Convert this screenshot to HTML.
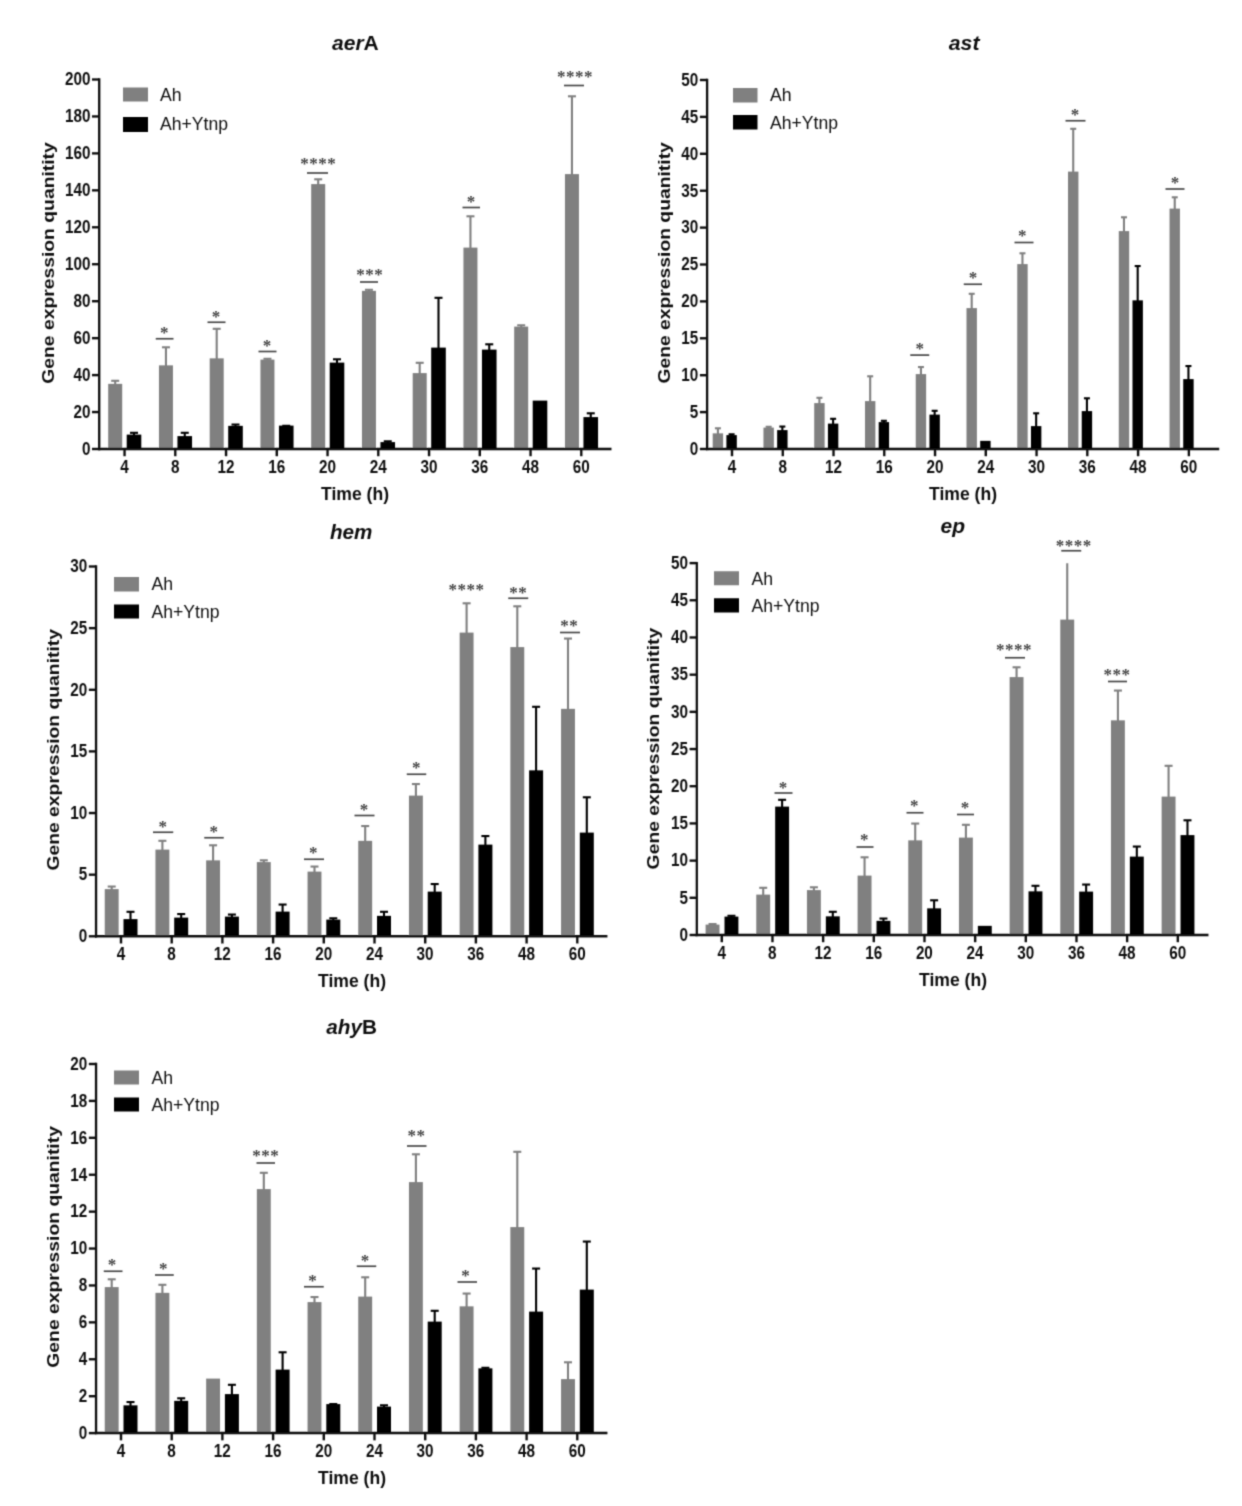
<!DOCTYPE html>
<html lang="en">
<head>
<meta charset="utf-8">
<title>Gene expression quantity</title>
<style>
html,body{margin:0;padding:0;background:#fff;}
body{width:1242px;height:1506px;overflow:hidden;}
svg{display:block;}
text{font-family:"Liberation Sans", sans-serif;fill:#111;}
.tk{font-size:17.8px;font-weight:bold;}
.lb{font-size:18px;font-weight:bold;}
.yl{font-size:17.2px;}
.ti{font-size:21px;font-weight:bold;}
.lg{font-size:19px;font-weight:normal;fill:#111;}
.st{font-family:"Liberation Serif", "DejaVu Serif", serif;font-size:17px;font-weight:bold;fill:#444;}
</style>
</head>
<body>
<svg width="1242" height="1506" viewBox="0 0 1242 1506">
<rect x="0" y="0" width="1242" height="1506" fill="#fff"/>
<defs><filter id="soft" x="0" y="0" width="1242" height="1506" filterUnits="userSpaceOnUse"><feConvolveMatrix order="3" kernelMatrix="1 4 1 4 16 4 1 4 1" divisor="36" edgeMode="duplicate" preserveAlpha="false"/></filter></defs>
<g id="fig" filter="url(#soft)">
<g class="panel">
<line x1="115.2" y1="384.85" x2="115.2" y2="380.5" stroke="#808080" stroke-width="2.1"/>
<line x1="111.2" y1="380.8" x2="119.2" y2="380.8" stroke="#808080" stroke-width="2.1"/>
<rect x="108.2" y="383.85" width="14" height="65.15" fill="#808080"/>
<line x1="134" y1="435.6" x2="134" y2="432.5" stroke="#000" stroke-width="2.1"/>
<line x1="130" y1="432.8" x2="138" y2="432.8" stroke="#000" stroke-width="2.1"/>
<rect x="126.7" y="434.6" width="14.6" height="14.4" fill="#000"/>
<line x1="165.95" y1="366.35" x2="165.95" y2="347" stroke="#808080" stroke-width="2.1"/>
<line x1="161.95" y1="347.3" x2="169.95" y2="347.3" stroke="#808080" stroke-width="2.1"/>
<rect x="158.95" y="365.35" width="14" height="83.65" fill="#808080"/>
<line x1="184.75" y1="437.1" x2="184.75" y2="432.5" stroke="#000" stroke-width="2.1"/>
<line x1="180.75" y1="432.8" x2="188.75" y2="432.8" stroke="#000" stroke-width="2.1"/>
<rect x="177.45" y="436.1" width="14.6" height="12.9" fill="#000"/>
<line x1="216.7" y1="359.35" x2="216.7" y2="328.5" stroke="#808080" stroke-width="2.1"/>
<line x1="212.7" y1="328.8" x2="220.7" y2="328.8" stroke="#808080" stroke-width="2.1"/>
<rect x="209.7" y="358.35" width="14" height="90.65" fill="#808080"/>
<line x1="235.5" y1="426.85" x2="235.5" y2="424.25" stroke="#000" stroke-width="2.1"/>
<line x1="231.5" y1="424.55" x2="239.5" y2="424.55" stroke="#000" stroke-width="2.1"/>
<rect x="228.2" y="425.85" width="14.6" height="23.15" fill="#000"/>
<line x1="267.45" y1="360.6" x2="267.45" y2="358.5" stroke="#808080" stroke-width="2.1"/>
<line x1="263.45" y1="358.8" x2="271.45" y2="358.8" stroke="#808080" stroke-width="2.1"/>
<rect x="260.45" y="359.6" width="14" height="89.4" fill="#808080"/>
<line x1="286.25" y1="426.6" x2="286.25" y2="425.5" stroke="#000" stroke-width="2.1"/>
<line x1="282.25" y1="425.8" x2="290.25" y2="425.8" stroke="#000" stroke-width="2.1"/>
<rect x="278.95" y="425.6" width="14.6" height="23.4" fill="#000"/>
<line x1="318.2" y1="185.1" x2="318.2" y2="179" stroke="#808080" stroke-width="2.1"/>
<line x1="314.2" y1="179.3" x2="322.2" y2="179.3" stroke="#808080" stroke-width="2.1"/>
<rect x="311.2" y="184.1" width="14" height="264.9" fill="#808080"/>
<line x1="337" y1="363.6" x2="337" y2="359" stroke="#000" stroke-width="2.1"/>
<line x1="333" y1="359.3" x2="341" y2="359.3" stroke="#000" stroke-width="2.1"/>
<rect x="329.7" y="362.6" width="14.6" height="86.4" fill="#000"/>
<line x1="368.95" y1="291.85" x2="368.95" y2="289.5" stroke="#808080" stroke-width="2.1"/>
<line x1="364.95" y1="289.8" x2="372.95" y2="289.8" stroke="#808080" stroke-width="2.1"/>
<rect x="361.95" y="290.85" width="14" height="158.15" fill="#808080"/>
<line x1="387.75" y1="443.1" x2="387.75" y2="441" stroke="#000" stroke-width="2.1"/>
<line x1="383.75" y1="441.3" x2="391.75" y2="441.3" stroke="#000" stroke-width="2.1"/>
<rect x="380.45" y="442.1" width="14.6" height="6.9" fill="#000"/>
<line x1="419.7" y1="374.1" x2="419.7" y2="362.5" stroke="#808080" stroke-width="2.1"/>
<line x1="415.7" y1="362.8" x2="423.7" y2="362.8" stroke="#808080" stroke-width="2.1"/>
<rect x="412.7" y="373.1" width="14" height="75.9" fill="#808080"/>
<line x1="438.5" y1="348.6" x2="438.5" y2="297.5" stroke="#000" stroke-width="2.1"/>
<line x1="434.5" y1="297.8" x2="442.5" y2="297.8" stroke="#000" stroke-width="2.1"/>
<rect x="431.2" y="347.6" width="14.6" height="101.4" fill="#000"/>
<line x1="470.45" y1="248.6" x2="470.45" y2="216" stroke="#808080" stroke-width="2.1"/>
<line x1="466.45" y1="216.3" x2="474.45" y2="216.3" stroke="#808080" stroke-width="2.1"/>
<rect x="463.45" y="247.6" width="14" height="201.4" fill="#808080"/>
<line x1="489.25" y1="350.6" x2="489.25" y2="344" stroke="#000" stroke-width="2.1"/>
<line x1="485.25" y1="344.3" x2="493.25" y2="344.3" stroke="#000" stroke-width="2.1"/>
<rect x="481.95" y="349.6" width="14.6" height="99.4" fill="#000"/>
<line x1="521.2" y1="327.6" x2="521.2" y2="325" stroke="#808080" stroke-width="2.1"/>
<line x1="517.2" y1="325.3" x2="525.2" y2="325.3" stroke="#808080" stroke-width="2.1"/>
<rect x="514.2" y="326.6" width="14" height="122.4" fill="#808080"/>
<rect x="532.7" y="400.6" width="14.6" height="48.4" fill="#000"/>
<line x1="571.95" y1="175.1" x2="571.95" y2="96" stroke="#808080" stroke-width="2.1"/>
<line x1="567.95" y1="96.3" x2="575.95" y2="96.3" stroke="#808080" stroke-width="2.1"/>
<rect x="564.95" y="174.1" width="14" height="274.9" fill="#808080"/>
<line x1="590.75" y1="418.1" x2="590.75" y2="413" stroke="#000" stroke-width="2.1"/>
<line x1="586.75" y1="413.3" x2="594.75" y2="413.3" stroke="#000" stroke-width="2.1"/>
<rect x="583.45" y="417.1" width="14.6" height="31.9" fill="#000"/>
<line x1="99.2" y1="78.3" x2="99.2" y2="450.2" stroke="#111" stroke-width="2.3"/>
<line x1="98.1" y1="449" x2="611.5" y2="449" stroke="#111" stroke-width="2.5"/>
<line x1="92" y1="449" x2="99.2" y2="449" stroke="#111" stroke-width="2.4"/>
<text class="tk" x="90.4" y="454.8" text-anchor="end" textLength="8.5" lengthAdjust="spacingAndGlyphs">0</text>
<line x1="92" y1="412.05" x2="99.2" y2="412.05" stroke="#111" stroke-width="2.4"/>
<text class="tk" x="90.4" y="417.85" text-anchor="end" textLength="17" lengthAdjust="spacingAndGlyphs">20</text>
<line x1="92" y1="375.1" x2="99.2" y2="375.1" stroke="#111" stroke-width="2.4"/>
<text class="tk" x="90.4" y="380.9" text-anchor="end" textLength="17" lengthAdjust="spacingAndGlyphs">40</text>
<line x1="92" y1="338.15" x2="99.2" y2="338.15" stroke="#111" stroke-width="2.4"/>
<text class="tk" x="90.4" y="343.95" text-anchor="end" textLength="17" lengthAdjust="spacingAndGlyphs">60</text>
<line x1="92" y1="301.2" x2="99.2" y2="301.2" stroke="#111" stroke-width="2.4"/>
<text class="tk" x="90.4" y="307" text-anchor="end" textLength="17" lengthAdjust="spacingAndGlyphs">80</text>
<line x1="92" y1="264.25" x2="99.2" y2="264.25" stroke="#111" stroke-width="2.4"/>
<text class="tk" x="90.4" y="270.05" text-anchor="end" textLength="25.5" lengthAdjust="spacingAndGlyphs">100</text>
<line x1="92" y1="227.3" x2="99.2" y2="227.3" stroke="#111" stroke-width="2.4"/>
<text class="tk" x="90.4" y="233.1" text-anchor="end" textLength="25.5" lengthAdjust="spacingAndGlyphs">120</text>
<line x1="92" y1="190.35" x2="99.2" y2="190.35" stroke="#111" stroke-width="2.4"/>
<text class="tk" x="90.4" y="196.15" text-anchor="end" textLength="25.5" lengthAdjust="spacingAndGlyphs">140</text>
<line x1="92" y1="153.4" x2="99.2" y2="153.4" stroke="#111" stroke-width="2.4"/>
<text class="tk" x="90.4" y="159.2" text-anchor="end" textLength="25.5" lengthAdjust="spacingAndGlyphs">160</text>
<line x1="92" y1="116.45" x2="99.2" y2="116.45" stroke="#111" stroke-width="2.4"/>
<text class="tk" x="90.4" y="122.25" text-anchor="end" textLength="25.5" lengthAdjust="spacingAndGlyphs">180</text>
<line x1="92" y1="79.5" x2="99.2" y2="79.5" stroke="#111" stroke-width="2.4"/>
<text class="tk" x="90.4" y="85.3" text-anchor="end" textLength="25.5" lengthAdjust="spacingAndGlyphs">200</text>
<line x1="124.55" y1="449" x2="124.55" y2="456.2" stroke="#111" stroke-width="2.4"/>
<text class="tk" x="124.45" y="472.7" text-anchor="middle" textLength="8.5" lengthAdjust="spacingAndGlyphs">4</text>
<line x1="175.3" y1="449" x2="175.3" y2="456.2" stroke="#111" stroke-width="2.4"/>
<text class="tk" x="175.2" y="472.7" text-anchor="middle" textLength="8.5" lengthAdjust="spacingAndGlyphs">8</text>
<line x1="226.05" y1="449" x2="226.05" y2="456.2" stroke="#111" stroke-width="2.4"/>
<text class="tk" x="225.95" y="472.7" text-anchor="middle" textLength="17" lengthAdjust="spacingAndGlyphs">12</text>
<line x1="276.8" y1="449" x2="276.8" y2="456.2" stroke="#111" stroke-width="2.4"/>
<text class="tk" x="276.7" y="472.7" text-anchor="middle" textLength="17" lengthAdjust="spacingAndGlyphs">16</text>
<line x1="327.55" y1="449" x2="327.55" y2="456.2" stroke="#111" stroke-width="2.4"/>
<text class="tk" x="327.45" y="472.7" text-anchor="middle" textLength="17" lengthAdjust="spacingAndGlyphs">20</text>
<line x1="378.3" y1="449" x2="378.3" y2="456.2" stroke="#111" stroke-width="2.4"/>
<text class="tk" x="378.2" y="472.7" text-anchor="middle" textLength="17" lengthAdjust="spacingAndGlyphs">24</text>
<line x1="429.05" y1="449" x2="429.05" y2="456.2" stroke="#111" stroke-width="2.4"/>
<text class="tk" x="428.95" y="472.7" text-anchor="middle" textLength="17" lengthAdjust="spacingAndGlyphs">30</text>
<line x1="479.8" y1="449" x2="479.8" y2="456.2" stroke="#111" stroke-width="2.4"/>
<text class="tk" x="479.7" y="472.7" text-anchor="middle" textLength="17" lengthAdjust="spacingAndGlyphs">36</text>
<line x1="530.55" y1="449" x2="530.55" y2="456.2" stroke="#111" stroke-width="2.4"/>
<text class="tk" x="530.45" y="472.7" text-anchor="middle" textLength="17" lengthAdjust="spacingAndGlyphs">48</text>
<line x1="581.3" y1="449" x2="581.3" y2="456.2" stroke="#111" stroke-width="2.4"/>
<text class="tk" x="581.2" y="472.7" text-anchor="middle" textLength="17" lengthAdjust="spacingAndGlyphs">60</text>
<line x1="155.75" y1="338.75" x2="173.5" y2="338.75" stroke="#4a4a4a" stroke-width="1.7"/>
<text class="st" x="164.25" y="337.5" text-anchor="middle">*</text>
<line x1="207.5" y1="322.25" x2="225.5" y2="322.25" stroke="#4a4a4a" stroke-width="1.7"/>
<text class="st" x="216" y="321.5" text-anchor="middle">*</text>
<line x1="258.5" y1="351.5" x2="276.5" y2="351.5" stroke="#4a4a4a" stroke-width="1.7"/>
<text class="st" x="267" y="351" text-anchor="middle">*</text>
<line x1="307" y1="173" x2="328" y2="173" stroke="#4a4a4a" stroke-width="1.7"/>
<text class="st" x="304.5" y="168.5" text-anchor="middle">*</text>
<text class="st" x="313.5" y="168.5" text-anchor="middle">*</text>
<text class="st" x="322.5" y="168.5" text-anchor="middle">*</text>
<text class="st" x="331.5" y="168.5" text-anchor="middle">*</text>
<line x1="360" y1="282" x2="378" y2="282" stroke="#4a4a4a" stroke-width="1.7"/>
<text class="st" x="360.5" y="279.5" text-anchor="middle">*</text>
<text class="st" x="369.5" y="279.5" text-anchor="middle">*</text>
<text class="st" x="378.5" y="279.5" text-anchor="middle">*</text>
<line x1="462.5" y1="207.5" x2="480" y2="207.5" stroke="#4a4a4a" stroke-width="1.7"/>
<text class="st" x="471" y="206.5" text-anchor="middle">*</text>
<line x1="564" y1="85.5" x2="584" y2="85.5" stroke="#4a4a4a" stroke-width="1.7"/>
<text class="st" x="561.25" y="82" text-anchor="middle">*</text>
<text class="st" x="570.25" y="82" text-anchor="middle">*</text>
<text class="st" x="579.25" y="82" text-anchor="middle">*</text>
<text class="st" x="588.25" y="82" text-anchor="middle">*</text>
<text class="ti" x="332" y="50" textLength="46.75" lengthAdjust="spacingAndGlyphs"><tspan font-style="italic">aer</tspan><tspan font-style="normal">A</tspan></text>
<text class="lb" x="321" y="499.6" textLength="68" lengthAdjust="spacingAndGlyphs">Time (h)</text>
<text class="lb yl" transform="translate(54.4 383.8) rotate(-90)" x="0" y="0" textLength="241.6" lengthAdjust="spacingAndGlyphs">Gene expression quanitity</text>
<rect x="123" y="87.5" width="25" height="14" fill="#808080"/>
<rect x="123" y="117" width="25" height="15" fill="#000"/>
<text class="lg" x="160" y="100.9" textLength="21.6" lengthAdjust="spacingAndGlyphs">Ah</text>
<text class="lg" x="160" y="130.4" textLength="68" lengthAdjust="spacingAndGlyphs">Ah+Ytnp</text>
</g>
<g class="panel">
<line x1="717.9" y1="434.35" x2="717.9" y2="428" stroke="#808080" stroke-width="2.1"/>
<line x1="714.9" y1="428.3" x2="720.9" y2="428.3" stroke="#808080" stroke-width="2.1"/>
<rect x="712.7" y="433.35" width="10.4" height="15.65" fill="#808080"/>
<line x1="731.6" y1="436.1" x2="731.6" y2="434" stroke="#000" stroke-width="2.1"/>
<line x1="728.6" y1="434.3" x2="734.6" y2="434.3" stroke="#000" stroke-width="2.1"/>
<rect x="726.4" y="435.1" width="10.4" height="13.9" fill="#000"/>
<line x1="768.66" y1="428.6" x2="768.66" y2="426.5" stroke="#808080" stroke-width="2.1"/>
<line x1="765.66" y1="426.8" x2="771.66" y2="426.8" stroke="#808080" stroke-width="2.1"/>
<rect x="763.46" y="427.6" width="10.4" height="21.4" fill="#808080"/>
<line x1="782.36" y1="431.1" x2="782.36" y2="426.25" stroke="#000" stroke-width="2.1"/>
<line x1="779.36" y1="426.55" x2="785.36" y2="426.55" stroke="#000" stroke-width="2.1"/>
<rect x="777.16" y="430.1" width="10.4" height="18.9" fill="#000"/>
<line x1="819.42" y1="404.1" x2="819.42" y2="397.5" stroke="#808080" stroke-width="2.1"/>
<line x1="816.42" y1="397.8" x2="822.42" y2="397.8" stroke="#808080" stroke-width="2.1"/>
<rect x="814.22" y="403.1" width="10.4" height="45.9" fill="#808080"/>
<line x1="833.12" y1="424.6" x2="833.12" y2="418.5" stroke="#000" stroke-width="2.1"/>
<line x1="830.12" y1="418.8" x2="836.12" y2="418.8" stroke="#000" stroke-width="2.1"/>
<rect x="827.92" y="423.6" width="10.4" height="25.4" fill="#000"/>
<line x1="870.18" y1="402.1" x2="870.18" y2="376" stroke="#808080" stroke-width="2.1"/>
<line x1="867.18" y1="376.3" x2="873.18" y2="376.3" stroke="#808080" stroke-width="2.1"/>
<rect x="864.98" y="401.1" width="10.4" height="47.9" fill="#808080"/>
<line x1="883.88" y1="423.1" x2="883.88" y2="420.5" stroke="#000" stroke-width="2.1"/>
<line x1="880.88" y1="420.8" x2="886.88" y2="420.8" stroke="#000" stroke-width="2.1"/>
<rect x="878.68" y="422.1" width="10.4" height="26.9" fill="#000"/>
<line x1="920.94" y1="375.1" x2="920.94" y2="366.75" stroke="#808080" stroke-width="2.1"/>
<line x1="917.94" y1="367.05" x2="923.94" y2="367.05" stroke="#808080" stroke-width="2.1"/>
<rect x="915.74" y="374.1" width="10.4" height="74.9" fill="#808080"/>
<line x1="934.64" y1="415.6" x2="934.64" y2="410.5" stroke="#000" stroke-width="2.1"/>
<line x1="931.64" y1="410.8" x2="937.64" y2="410.8" stroke="#000" stroke-width="2.1"/>
<rect x="929.44" y="414.6" width="10.4" height="34.4" fill="#000"/>
<line x1="971.7" y1="309.1" x2="971.7" y2="293.5" stroke="#808080" stroke-width="2.1"/>
<line x1="968.7" y1="293.8" x2="974.7" y2="293.8" stroke="#808080" stroke-width="2.1"/>
<rect x="966.5" y="308.1" width="10.4" height="140.9" fill="#808080"/>
<rect x="980.2" y="440.85" width="10.4" height="8.15" fill="#000"/>
<line x1="1022.46" y1="265.1" x2="1022.46" y2="253" stroke="#808080" stroke-width="2.1"/>
<line x1="1019.46" y1="253.3" x2="1025.46" y2="253.3" stroke="#808080" stroke-width="2.1"/>
<rect x="1017.26" y="264.1" width="10.4" height="184.9" fill="#808080"/>
<line x1="1036.16" y1="427.1" x2="1036.16" y2="413" stroke="#000" stroke-width="2.1"/>
<line x1="1033.16" y1="413.3" x2="1039.16" y2="413.3" stroke="#000" stroke-width="2.1"/>
<rect x="1030.96" y="426.1" width="10.4" height="22.9" fill="#000"/>
<line x1="1073.22" y1="172.6" x2="1073.22" y2="128.5" stroke="#808080" stroke-width="2.1"/>
<line x1="1070.22" y1="128.8" x2="1076.22" y2="128.8" stroke="#808080" stroke-width="2.1"/>
<rect x="1068.02" y="171.6" width="10.4" height="277.4" fill="#808080"/>
<line x1="1086.92" y1="412.1" x2="1086.92" y2="398" stroke="#000" stroke-width="2.1"/>
<line x1="1083.92" y1="398.3" x2="1089.92" y2="398.3" stroke="#000" stroke-width="2.1"/>
<rect x="1081.72" y="411.1" width="10.4" height="37.9" fill="#000"/>
<line x1="1123.98" y1="232.1" x2="1123.98" y2="217" stroke="#808080" stroke-width="2.1"/>
<line x1="1120.98" y1="217.3" x2="1126.98" y2="217.3" stroke="#808080" stroke-width="2.1"/>
<rect x="1118.78" y="231.1" width="10.4" height="217.9" fill="#808080"/>
<line x1="1137.68" y1="301.35" x2="1137.68" y2="265.75" stroke="#000" stroke-width="2.1"/>
<line x1="1134.68" y1="266.05" x2="1140.68" y2="266.05" stroke="#000" stroke-width="2.1"/>
<rect x="1132.48" y="300.35" width="10.4" height="148.65" fill="#000"/>
<line x1="1174.74" y1="209.6" x2="1174.74" y2="197" stroke="#808080" stroke-width="2.1"/>
<line x1="1171.74" y1="197.3" x2="1177.74" y2="197.3" stroke="#808080" stroke-width="2.1"/>
<rect x="1169.54" y="208.6" width="10.4" height="240.4" fill="#808080"/>
<line x1="1188.44" y1="380.1" x2="1188.44" y2="365.75" stroke="#000" stroke-width="2.1"/>
<line x1="1185.44" y1="366.05" x2="1191.44" y2="366.05" stroke="#000" stroke-width="2.1"/>
<rect x="1183.24" y="379.1" width="10.4" height="69.9" fill="#000"/>
<line x1="707.1" y1="78.8" x2="707.1" y2="450.2" stroke="#111" stroke-width="2.3"/>
<line x1="706" y1="449" x2="1219.2" y2="449" stroke="#111" stroke-width="2.5"/>
<line x1="699.9" y1="449" x2="707.1" y2="449" stroke="#111" stroke-width="2.4"/>
<text class="tk" x="698.3" y="454.8" text-anchor="end" textLength="8.5" lengthAdjust="spacingAndGlyphs">0</text>
<line x1="699.9" y1="412.1" x2="707.1" y2="412.1" stroke="#111" stroke-width="2.4"/>
<text class="tk" x="698.3" y="417.9" text-anchor="end" textLength="8.5" lengthAdjust="spacingAndGlyphs">5</text>
<line x1="699.9" y1="375.2" x2="707.1" y2="375.2" stroke="#111" stroke-width="2.4"/>
<text class="tk" x="698.3" y="381" text-anchor="end" textLength="17" lengthAdjust="spacingAndGlyphs">10</text>
<line x1="699.9" y1="338.3" x2="707.1" y2="338.3" stroke="#111" stroke-width="2.4"/>
<text class="tk" x="698.3" y="344.1" text-anchor="end" textLength="17" lengthAdjust="spacingAndGlyphs">15</text>
<line x1="699.9" y1="301.4" x2="707.1" y2="301.4" stroke="#111" stroke-width="2.4"/>
<text class="tk" x="698.3" y="307.2" text-anchor="end" textLength="17" lengthAdjust="spacingAndGlyphs">20</text>
<line x1="699.9" y1="264.5" x2="707.1" y2="264.5" stroke="#111" stroke-width="2.4"/>
<text class="tk" x="698.3" y="270.3" text-anchor="end" textLength="17" lengthAdjust="spacingAndGlyphs">25</text>
<line x1="699.9" y1="227.6" x2="707.1" y2="227.6" stroke="#111" stroke-width="2.4"/>
<text class="tk" x="698.3" y="233.4" text-anchor="end" textLength="17" lengthAdjust="spacingAndGlyphs">30</text>
<line x1="699.9" y1="190.7" x2="707.1" y2="190.7" stroke="#111" stroke-width="2.4"/>
<text class="tk" x="698.3" y="196.5" text-anchor="end" textLength="17" lengthAdjust="spacingAndGlyphs">35</text>
<line x1="699.9" y1="153.8" x2="707.1" y2="153.8" stroke="#111" stroke-width="2.4"/>
<text class="tk" x="698.3" y="159.6" text-anchor="end" textLength="17" lengthAdjust="spacingAndGlyphs">40</text>
<line x1="699.9" y1="116.9" x2="707.1" y2="116.9" stroke="#111" stroke-width="2.4"/>
<text class="tk" x="698.3" y="122.7" text-anchor="end" textLength="17" lengthAdjust="spacingAndGlyphs">45</text>
<line x1="699.9" y1="80" x2="707.1" y2="80" stroke="#111" stroke-width="2.4"/>
<text class="tk" x="698.3" y="85.8" text-anchor="end" textLength="17" lengthAdjust="spacingAndGlyphs">50</text>
<line x1="732" y1="449" x2="732" y2="456.2" stroke="#111" stroke-width="2.4"/>
<text class="tk" x="731.9" y="472.7" text-anchor="middle" textLength="8.5" lengthAdjust="spacingAndGlyphs">4</text>
<line x1="782.76" y1="449" x2="782.76" y2="456.2" stroke="#111" stroke-width="2.4"/>
<text class="tk" x="782.66" y="472.7" text-anchor="middle" textLength="8.5" lengthAdjust="spacingAndGlyphs">8</text>
<line x1="833.52" y1="449" x2="833.52" y2="456.2" stroke="#111" stroke-width="2.4"/>
<text class="tk" x="833.42" y="472.7" text-anchor="middle" textLength="17" lengthAdjust="spacingAndGlyphs">12</text>
<line x1="884.28" y1="449" x2="884.28" y2="456.2" stroke="#111" stroke-width="2.4"/>
<text class="tk" x="884.18" y="472.7" text-anchor="middle" textLength="17" lengthAdjust="spacingAndGlyphs">16</text>
<line x1="935.04" y1="449" x2="935.04" y2="456.2" stroke="#111" stroke-width="2.4"/>
<text class="tk" x="934.94" y="472.7" text-anchor="middle" textLength="17" lengthAdjust="spacingAndGlyphs">20</text>
<line x1="985.8" y1="449" x2="985.8" y2="456.2" stroke="#111" stroke-width="2.4"/>
<text class="tk" x="985.7" y="472.7" text-anchor="middle" textLength="17" lengthAdjust="spacingAndGlyphs">24</text>
<line x1="1036.56" y1="449" x2="1036.56" y2="456.2" stroke="#111" stroke-width="2.4"/>
<text class="tk" x="1036.46" y="472.7" text-anchor="middle" textLength="17" lengthAdjust="spacingAndGlyphs">30</text>
<line x1="1087.32" y1="449" x2="1087.32" y2="456.2" stroke="#111" stroke-width="2.4"/>
<text class="tk" x="1087.22" y="472.7" text-anchor="middle" textLength="17" lengthAdjust="spacingAndGlyphs">36</text>
<line x1="1138.08" y1="449" x2="1138.08" y2="456.2" stroke="#111" stroke-width="2.4"/>
<text class="tk" x="1137.98" y="472.7" text-anchor="middle" textLength="17" lengthAdjust="spacingAndGlyphs">48</text>
<line x1="1188.84" y1="449" x2="1188.84" y2="456.2" stroke="#111" stroke-width="2.4"/>
<text class="tk" x="1188.74" y="472.7" text-anchor="middle" textLength="17" lengthAdjust="spacingAndGlyphs">60</text>
<line x1="910.25" y1="355.1" x2="929.25" y2="355.1" stroke="#4a4a4a" stroke-width="1.7"/>
<text class="st" x="919.8" y="354" text-anchor="middle">*</text>
<line x1="963.75" y1="284.25" x2="982" y2="284.25" stroke="#4a4a4a" stroke-width="1.7"/>
<text class="st" x="973" y="283.25" text-anchor="middle">*</text>
<line x1="1014.5" y1="242.5" x2="1033.5" y2="242.5" stroke="#4a4a4a" stroke-width="1.7"/>
<text class="st" x="1022.3" y="241" text-anchor="middle">*</text>
<line x1="1065.5" y1="120.75" x2="1085.5" y2="120.75" stroke="#4a4a4a" stroke-width="1.7"/>
<text class="st" x="1075" y="119.5" text-anchor="middle">*</text>
<line x1="1165.5" y1="189" x2="1184.5" y2="189" stroke="#4a4a4a" stroke-width="1.7"/>
<text class="st" x="1175" y="187.5" text-anchor="middle">*</text>
<text class="ti" x="948.75" y="50" textLength="30.75" lengthAdjust="spacingAndGlyphs"><tspan font-style="italic">ast</tspan></text>
<text class="lb" x="929" y="499.6" textLength="68" lengthAdjust="spacingAndGlyphs">Time (h)</text>
<text class="lb yl" transform="translate(670.1 383.6) rotate(-90)" x="0" y="0" textLength="241.4" lengthAdjust="spacingAndGlyphs">Gene expression quanitity</text>
<rect x="733" y="88" width="24.5" height="14.5" fill="#808080"/>
<rect x="733" y="115" width="24.5" height="14.5" fill="#000"/>
<text class="lg" x="770" y="101.4" textLength="21.6" lengthAdjust="spacingAndGlyphs">Ah</text>
<text class="lg" x="770" y="129.15" textLength="68" lengthAdjust="spacingAndGlyphs">Ah+Ytnp</text>
</g>
<g class="panel">
<line x1="111.7" y1="890.1" x2="111.7" y2="886.25" stroke="#808080" stroke-width="2.1"/>
<line x1="107.7" y1="886.55" x2="115.7" y2="886.55" stroke="#808080" stroke-width="2.1"/>
<rect x="104.75" y="889.1" width="13.9" height="47.2" fill="#808080"/>
<line x1="130.5" y1="920.1" x2="130.5" y2="911.5" stroke="#000" stroke-width="2.1"/>
<line x1="126.5" y1="911.8" x2="134.5" y2="911.8" stroke="#000" stroke-width="2.1"/>
<rect x="123.5" y="919.1" width="14" height="17.2" fill="#000"/>
<line x1="162.4" y1="850.6" x2="162.4" y2="840.5" stroke="#808080" stroke-width="2.1"/>
<line x1="158.4" y1="840.8" x2="166.4" y2="840.8" stroke="#808080" stroke-width="2.1"/>
<rect x="155.45" y="849.6" width="13.9" height="86.7" fill="#808080"/>
<line x1="181.2" y1="918.6" x2="181.2" y2="913.75" stroke="#000" stroke-width="2.1"/>
<line x1="177.2" y1="914.05" x2="185.2" y2="914.05" stroke="#000" stroke-width="2.1"/>
<rect x="174.2" y="917.6" width="14" height="18.7" fill="#000"/>
<line x1="213.1" y1="861.35" x2="213.1" y2="845" stroke="#808080" stroke-width="2.1"/>
<line x1="209.1" y1="845.3" x2="217.1" y2="845.3" stroke="#808080" stroke-width="2.1"/>
<rect x="206.15" y="860.35" width="13.9" height="75.95" fill="#808080"/>
<line x1="231.9" y1="917.6" x2="231.9" y2="914.25" stroke="#000" stroke-width="2.1"/>
<line x1="227.9" y1="914.55" x2="235.9" y2="914.55" stroke="#000" stroke-width="2.1"/>
<rect x="224.9" y="916.6" width="14" height="19.7" fill="#000"/>
<line x1="263.8" y1="863.1" x2="263.8" y2="860" stroke="#808080" stroke-width="2.1"/>
<line x1="259.8" y1="860.3" x2="267.8" y2="860.3" stroke="#808080" stroke-width="2.1"/>
<rect x="256.85" y="862.1" width="13.9" height="74.2" fill="#808080"/>
<line x1="282.6" y1="912.6" x2="282.6" y2="904.25" stroke="#000" stroke-width="2.1"/>
<line x1="278.6" y1="904.55" x2="286.6" y2="904.55" stroke="#000" stroke-width="2.1"/>
<rect x="275.6" y="911.6" width="14" height="24.7" fill="#000"/>
<line x1="314.5" y1="872.6" x2="314.5" y2="866.25" stroke="#808080" stroke-width="2.1"/>
<line x1="310.5" y1="866.55" x2="318.5" y2="866.55" stroke="#808080" stroke-width="2.1"/>
<rect x="307.55" y="871.6" width="13.9" height="64.7" fill="#808080"/>
<line x1="333.3" y1="920.6" x2="333.3" y2="918" stroke="#000" stroke-width="2.1"/>
<line x1="329.3" y1="918.3" x2="337.3" y2="918.3" stroke="#000" stroke-width="2.1"/>
<rect x="326.3" y="919.6" width="14" height="16.7" fill="#000"/>
<line x1="365.2" y1="841.85" x2="365.2" y2="825.75" stroke="#808080" stroke-width="2.1"/>
<line x1="361.2" y1="826.05" x2="369.2" y2="826.05" stroke="#808080" stroke-width="2.1"/>
<rect x="358.25" y="840.85" width="13.9" height="95.45" fill="#808080"/>
<line x1="384" y1="916.85" x2="384" y2="911.5" stroke="#000" stroke-width="2.1"/>
<line x1="380" y1="911.8" x2="388" y2="911.8" stroke="#000" stroke-width="2.1"/>
<rect x="377" y="915.85" width="14" height="20.45" fill="#000"/>
<line x1="415.9" y1="796.6" x2="415.9" y2="783.75" stroke="#808080" stroke-width="2.1"/>
<line x1="411.9" y1="784.05" x2="419.9" y2="784.05" stroke="#808080" stroke-width="2.1"/>
<rect x="408.95" y="795.6" width="13.9" height="140.7" fill="#808080"/>
<line x1="434.7" y1="892.6" x2="434.7" y2="883.75" stroke="#000" stroke-width="2.1"/>
<line x1="430.7" y1="884.05" x2="438.7" y2="884.05" stroke="#000" stroke-width="2.1"/>
<rect x="427.7" y="891.6" width="14" height="44.7" fill="#000"/>
<line x1="466.6" y1="633.6" x2="466.6" y2="603" stroke="#808080" stroke-width="2.1"/>
<line x1="462.6" y1="603.3" x2="470.6" y2="603.3" stroke="#808080" stroke-width="2.1"/>
<rect x="459.65" y="632.6" width="13.9" height="303.7" fill="#808080"/>
<line x1="485.4" y1="845.6" x2="485.4" y2="835.75" stroke="#000" stroke-width="2.1"/>
<line x1="481.4" y1="836.05" x2="489.4" y2="836.05" stroke="#000" stroke-width="2.1"/>
<rect x="478.4" y="844.6" width="14" height="91.7" fill="#000"/>
<line x1="517.3" y1="648.1" x2="517.3" y2="606" stroke="#808080" stroke-width="2.1"/>
<line x1="513.3" y1="606.3" x2="521.3" y2="606.3" stroke="#808080" stroke-width="2.1"/>
<rect x="510.35" y="647.1" width="13.9" height="289.2" fill="#808080"/>
<line x1="536.1" y1="771.35" x2="536.1" y2="706.5" stroke="#000" stroke-width="2.1"/>
<line x1="532.1" y1="706.8" x2="540.1" y2="706.8" stroke="#000" stroke-width="2.1"/>
<rect x="529.1" y="770.35" width="14" height="165.95" fill="#000"/>
<line x1="568" y1="709.85" x2="568" y2="638.25" stroke="#808080" stroke-width="2.1"/>
<line x1="564" y1="638.55" x2="572" y2="638.55" stroke="#808080" stroke-width="2.1"/>
<rect x="561.05" y="708.85" width="13.9" height="227.45" fill="#808080"/>
<line x1="586.8" y1="833.6" x2="586.8" y2="797" stroke="#000" stroke-width="2.1"/>
<line x1="582.8" y1="797.3" x2="590.8" y2="797.3" stroke="#000" stroke-width="2.1"/>
<rect x="579.8" y="832.6" width="14" height="103.7" fill="#000"/>
<line x1="96.05" y1="565.3" x2="96.05" y2="937.5" stroke="#111" stroke-width="2.3"/>
<line x1="94.95" y1="936.3" x2="607.4" y2="936.3" stroke="#111" stroke-width="2.5"/>
<line x1="88.85" y1="936.3" x2="96.05" y2="936.3" stroke="#111" stroke-width="2.4"/>
<text class="tk" x="87.25" y="942.1" text-anchor="end" textLength="8.5" lengthAdjust="spacingAndGlyphs">0</text>
<line x1="88.85" y1="874.67" x2="96.05" y2="874.67" stroke="#111" stroke-width="2.4"/>
<text class="tk" x="87.25" y="880.47" text-anchor="end" textLength="8.5" lengthAdjust="spacingAndGlyphs">5</text>
<line x1="88.85" y1="813.03" x2="96.05" y2="813.03" stroke="#111" stroke-width="2.4"/>
<text class="tk" x="87.25" y="818.83" text-anchor="end" textLength="17" lengthAdjust="spacingAndGlyphs">10</text>
<line x1="88.85" y1="751.4" x2="96.05" y2="751.4" stroke="#111" stroke-width="2.4"/>
<text class="tk" x="87.25" y="757.2" text-anchor="end" textLength="17" lengthAdjust="spacingAndGlyphs">15</text>
<line x1="88.85" y1="689.77" x2="96.05" y2="689.77" stroke="#111" stroke-width="2.4"/>
<text class="tk" x="87.25" y="695.57" text-anchor="end" textLength="17" lengthAdjust="spacingAndGlyphs">20</text>
<line x1="88.85" y1="628.13" x2="96.05" y2="628.13" stroke="#111" stroke-width="2.4"/>
<text class="tk" x="87.25" y="633.93" text-anchor="end" textLength="17" lengthAdjust="spacingAndGlyphs">25</text>
<line x1="88.85" y1="566.5" x2="96.05" y2="566.5" stroke="#111" stroke-width="2.4"/>
<text class="tk" x="87.25" y="572.3" text-anchor="end" textLength="17" lengthAdjust="spacingAndGlyphs">30</text>
<line x1="121" y1="936.3" x2="121" y2="943.5" stroke="#111" stroke-width="2.4"/>
<text class="tk" x="120.9" y="960" text-anchor="middle" textLength="8.5" lengthAdjust="spacingAndGlyphs">4</text>
<line x1="171.7" y1="936.3" x2="171.7" y2="943.5" stroke="#111" stroke-width="2.4"/>
<text class="tk" x="171.6" y="960" text-anchor="middle" textLength="8.5" lengthAdjust="spacingAndGlyphs">8</text>
<line x1="222.4" y1="936.3" x2="222.4" y2="943.5" stroke="#111" stroke-width="2.4"/>
<text class="tk" x="222.3" y="960" text-anchor="middle" textLength="17" lengthAdjust="spacingAndGlyphs">12</text>
<line x1="273.1" y1="936.3" x2="273.1" y2="943.5" stroke="#111" stroke-width="2.4"/>
<text class="tk" x="273" y="960" text-anchor="middle" textLength="17" lengthAdjust="spacingAndGlyphs">16</text>
<line x1="323.8" y1="936.3" x2="323.8" y2="943.5" stroke="#111" stroke-width="2.4"/>
<text class="tk" x="323.7" y="960" text-anchor="middle" textLength="17" lengthAdjust="spacingAndGlyphs">20</text>
<line x1="374.5" y1="936.3" x2="374.5" y2="943.5" stroke="#111" stroke-width="2.4"/>
<text class="tk" x="374.4" y="960" text-anchor="middle" textLength="17" lengthAdjust="spacingAndGlyphs">24</text>
<line x1="425.2" y1="936.3" x2="425.2" y2="943.5" stroke="#111" stroke-width="2.4"/>
<text class="tk" x="425.1" y="960" text-anchor="middle" textLength="17" lengthAdjust="spacingAndGlyphs">30</text>
<line x1="475.9" y1="936.3" x2="475.9" y2="943.5" stroke="#111" stroke-width="2.4"/>
<text class="tk" x="475.8" y="960" text-anchor="middle" textLength="17" lengthAdjust="spacingAndGlyphs">36</text>
<line x1="526.6" y1="936.3" x2="526.6" y2="943.5" stroke="#111" stroke-width="2.4"/>
<text class="tk" x="526.5" y="960" text-anchor="middle" textLength="17" lengthAdjust="spacingAndGlyphs">48</text>
<line x1="577.3" y1="936.3" x2="577.3" y2="943.5" stroke="#111" stroke-width="2.4"/>
<text class="tk" x="577.2" y="960" text-anchor="middle" textLength="17" lengthAdjust="spacingAndGlyphs">60</text>
<line x1="153" y1="832.25" x2="173.25" y2="832.25" stroke="#4a4a4a" stroke-width="1.7"/>
<text class="st" x="162.75" y="831.5" text-anchor="middle">*</text>
<line x1="204.25" y1="837.75" x2="223.75" y2="837.75" stroke="#4a4a4a" stroke-width="1.7"/>
<text class="st" x="213.75" y="836.5" text-anchor="middle">*</text>
<line x1="304" y1="859.25" x2="324" y2="859.25" stroke="#4a4a4a" stroke-width="1.7"/>
<text class="st" x="313.25" y="858.25" text-anchor="middle">*</text>
<line x1="354.5" y1="815.5" x2="374.5" y2="815.5" stroke="#4a4a4a" stroke-width="1.7"/>
<text class="st" x="364" y="814.5" text-anchor="middle">*</text>
<line x1="406.75" y1="774.25" x2="426.25" y2="774.25" stroke="#4a4a4a" stroke-width="1.7"/>
<text class="st" x="416.25" y="773.25" text-anchor="middle">*</text>
<text class="st" x="452.75" y="595.25" text-anchor="middle">*</text>
<text class="st" x="461.75" y="595.25" text-anchor="middle">*</text>
<text class="st" x="470.75" y="595.25" text-anchor="middle">*</text>
<text class="st" x="479.75" y="595.25" text-anchor="middle">*</text>
<line x1="508.25" y1="598.25" x2="528.25" y2="598.25" stroke="#4a4a4a" stroke-width="1.7"/>
<text class="st" x="513.5" y="597.5" text-anchor="middle">*</text>
<text class="st" x="522.5" y="597.5" text-anchor="middle">*</text>
<line x1="560" y1="632.5" x2="580" y2="632.5" stroke="#4a4a4a" stroke-width="1.7"/>
<text class="st" x="564.5" y="630.75" text-anchor="middle">*</text>
<text class="st" x="573.5" y="630.75" text-anchor="middle">*</text>
<text class="ti" x="330" y="538.75" textLength="42.5" lengthAdjust="spacingAndGlyphs"><tspan font-style="italic">hem</tspan></text>
<text class="lb" x="318" y="986.9" textLength="68" lengthAdjust="spacingAndGlyphs">Time (h)</text>
<text class="lb yl" transform="translate(59 870.6) rotate(-90)" x="0" y="0" textLength="241.6" lengthAdjust="spacingAndGlyphs">Gene expression quanitity</text>
<rect x="114" y="577" width="25" height="14.5" fill="#808080"/>
<rect x="114" y="604.5" width="25" height="14" fill="#000"/>
<text class="lg" x="151.5" y="590.4" textLength="21.6" lengthAdjust="spacingAndGlyphs">Ah</text>
<text class="lg" x="151.5" y="617.9" textLength="68" lengthAdjust="spacingAndGlyphs">Ah+Ytnp</text>
</g>
<g class="panel">
<line x1="712.55" y1="925.6" x2="712.55" y2="923.75" stroke="#808080" stroke-width="2.1"/>
<line x1="708.55" y1="924.05" x2="716.55" y2="924.05" stroke="#808080" stroke-width="2.1"/>
<rect x="705.6" y="924.6" width="13.9" height="10.4" fill="#808080"/>
<line x1="731.45" y1="917.6" x2="731.45" y2="915.5" stroke="#000" stroke-width="2.1"/>
<line x1="727.45" y1="915.8" x2="735.45" y2="915.8" stroke="#000" stroke-width="2.1"/>
<rect x="724.5" y="916.6" width="13.9" height="18.4" fill="#000"/>
<line x1="763.22" y1="895.6" x2="763.22" y2="887.5" stroke="#808080" stroke-width="2.1"/>
<line x1="759.22" y1="887.8" x2="767.22" y2="887.8" stroke="#808080" stroke-width="2.1"/>
<rect x="756.27" y="894.6" width="13.9" height="40.4" fill="#808080"/>
<line x1="782.12" y1="807.6" x2="782.12" y2="799.5" stroke="#000" stroke-width="2.1"/>
<line x1="778.12" y1="799.8" x2="786.12" y2="799.8" stroke="#000" stroke-width="2.1"/>
<rect x="775.17" y="806.6" width="13.9" height="128.4" fill="#000"/>
<line x1="813.89" y1="891.1" x2="813.89" y2="887" stroke="#808080" stroke-width="2.1"/>
<line x1="809.89" y1="887.3" x2="817.89" y2="887.3" stroke="#808080" stroke-width="2.1"/>
<rect x="806.94" y="890.1" width="13.9" height="44.9" fill="#808080"/>
<line x1="832.79" y1="917.35" x2="832.79" y2="911.5" stroke="#000" stroke-width="2.1"/>
<line x1="828.79" y1="911.8" x2="836.79" y2="911.8" stroke="#000" stroke-width="2.1"/>
<rect x="825.84" y="916.35" width="13.9" height="18.65" fill="#000"/>
<line x1="864.56" y1="876.6" x2="864.56" y2="857" stroke="#808080" stroke-width="2.1"/>
<line x1="860.56" y1="857.3" x2="868.56" y2="857.3" stroke="#808080" stroke-width="2.1"/>
<rect x="857.61" y="875.6" width="13.9" height="59.4" fill="#808080"/>
<line x1="883.46" y1="921.85" x2="883.46" y2="918.25" stroke="#000" stroke-width="2.1"/>
<line x1="879.46" y1="918.55" x2="887.46" y2="918.55" stroke="#000" stroke-width="2.1"/>
<rect x="876.51" y="920.85" width="13.9" height="14.15" fill="#000"/>
<line x1="915.23" y1="841.35" x2="915.23" y2="823.25" stroke="#808080" stroke-width="2.1"/>
<line x1="911.23" y1="823.55" x2="919.23" y2="823.55" stroke="#808080" stroke-width="2.1"/>
<rect x="908.28" y="840.35" width="13.9" height="94.65" fill="#808080"/>
<line x1="934.13" y1="909.35" x2="934.13" y2="900" stroke="#000" stroke-width="2.1"/>
<line x1="930.13" y1="900.3" x2="938.13" y2="900.3" stroke="#000" stroke-width="2.1"/>
<rect x="927.18" y="908.35" width="13.9" height="26.65" fill="#000"/>
<line x1="965.9" y1="838.6" x2="965.9" y2="824.5" stroke="#808080" stroke-width="2.1"/>
<line x1="961.9" y1="824.8" x2="969.9" y2="824.8" stroke="#808080" stroke-width="2.1"/>
<rect x="958.95" y="837.6" width="13.9" height="97.4" fill="#808080"/>
<rect x="977.85" y="925.85" width="13.9" height="9.15" fill="#000"/>
<line x1="1016.57" y1="678.1" x2="1016.57" y2="667" stroke="#808080" stroke-width="2.1"/>
<line x1="1012.57" y1="667.3" x2="1020.57" y2="667.3" stroke="#808080" stroke-width="2.1"/>
<rect x="1009.62" y="677.1" width="13.9" height="257.9" fill="#808080"/>
<line x1="1035.47" y1="892.35" x2="1035.47" y2="885.5" stroke="#000" stroke-width="2.1"/>
<line x1="1031.47" y1="885.8" x2="1039.47" y2="885.8" stroke="#000" stroke-width="2.1"/>
<rect x="1028.52" y="891.35" width="13.9" height="43.65" fill="#000"/>
<line x1="1067.24" y1="620.6" x2="1067.24" y2="563.25" stroke="#808080" stroke-width="2.1"/>
<rect x="1060.29" y="619.6" width="13.9" height="315.4" fill="#808080"/>
<line x1="1086.14" y1="892.6" x2="1086.14" y2="884.25" stroke="#000" stroke-width="2.1"/>
<line x1="1082.14" y1="884.55" x2="1090.14" y2="884.55" stroke="#000" stroke-width="2.1"/>
<rect x="1079.19" y="891.6" width="13.9" height="43.4" fill="#000"/>
<line x1="1117.91" y1="721.35" x2="1117.91" y2="690.25" stroke="#808080" stroke-width="2.1"/>
<line x1="1113.91" y1="690.55" x2="1121.91" y2="690.55" stroke="#808080" stroke-width="2.1"/>
<rect x="1110.96" y="720.35" width="13.9" height="214.65" fill="#808080"/>
<line x1="1136.81" y1="857.6" x2="1136.81" y2="846.25" stroke="#000" stroke-width="2.1"/>
<line x1="1132.81" y1="846.55" x2="1140.81" y2="846.55" stroke="#000" stroke-width="2.1"/>
<rect x="1129.86" y="856.6" width="13.9" height="78.4" fill="#000"/>
<line x1="1168.58" y1="797.6" x2="1168.58" y2="765.5" stroke="#808080" stroke-width="2.1"/>
<line x1="1164.58" y1="765.8" x2="1172.58" y2="765.8" stroke="#808080" stroke-width="2.1"/>
<rect x="1161.63" y="796.6" width="13.9" height="138.4" fill="#808080"/>
<line x1="1187.48" y1="836.1" x2="1187.48" y2="820" stroke="#000" stroke-width="2.1"/>
<line x1="1183.48" y1="820.3" x2="1191.48" y2="820.3" stroke="#000" stroke-width="2.1"/>
<rect x="1180.53" y="835.1" width="13.9" height="99.9" fill="#000"/>
<line x1="696.8" y1="561.9" x2="696.8" y2="936.2" stroke="#111" stroke-width="2.3"/>
<line x1="695.7" y1="935" x2="1208.5" y2="935" stroke="#111" stroke-width="2.5"/>
<line x1="689.6" y1="935" x2="696.8" y2="935" stroke="#111" stroke-width="2.4"/>
<text class="tk" x="688" y="940.8" text-anchor="end" textLength="8.5" lengthAdjust="spacingAndGlyphs">0</text>
<line x1="689.6" y1="897.81" x2="696.8" y2="897.81" stroke="#111" stroke-width="2.4"/>
<text class="tk" x="688" y="903.61" text-anchor="end" textLength="8.5" lengthAdjust="spacingAndGlyphs">5</text>
<line x1="689.6" y1="860.62" x2="696.8" y2="860.62" stroke="#111" stroke-width="2.4"/>
<text class="tk" x="688" y="866.42" text-anchor="end" textLength="17" lengthAdjust="spacingAndGlyphs">10</text>
<line x1="689.6" y1="823.43" x2="696.8" y2="823.43" stroke="#111" stroke-width="2.4"/>
<text class="tk" x="688" y="829.23" text-anchor="end" textLength="17" lengthAdjust="spacingAndGlyphs">15</text>
<line x1="689.6" y1="786.24" x2="696.8" y2="786.24" stroke="#111" stroke-width="2.4"/>
<text class="tk" x="688" y="792.04" text-anchor="end" textLength="17" lengthAdjust="spacingAndGlyphs">20</text>
<line x1="689.6" y1="749.05" x2="696.8" y2="749.05" stroke="#111" stroke-width="2.4"/>
<text class="tk" x="688" y="754.85" text-anchor="end" textLength="17" lengthAdjust="spacingAndGlyphs">25</text>
<line x1="689.6" y1="711.86" x2="696.8" y2="711.86" stroke="#111" stroke-width="2.4"/>
<text class="tk" x="688" y="717.66" text-anchor="end" textLength="17" lengthAdjust="spacingAndGlyphs">30</text>
<line x1="689.6" y1="674.67" x2="696.8" y2="674.67" stroke="#111" stroke-width="2.4"/>
<text class="tk" x="688" y="680.47" text-anchor="end" textLength="17" lengthAdjust="spacingAndGlyphs">35</text>
<line x1="689.6" y1="637.48" x2="696.8" y2="637.48" stroke="#111" stroke-width="2.4"/>
<text class="tk" x="688" y="643.28" text-anchor="end" textLength="17" lengthAdjust="spacingAndGlyphs">40</text>
<line x1="689.6" y1="600.29" x2="696.8" y2="600.29" stroke="#111" stroke-width="2.4"/>
<text class="tk" x="688" y="606.09" text-anchor="end" textLength="17" lengthAdjust="spacingAndGlyphs">45</text>
<line x1="689.6" y1="563.1" x2="696.8" y2="563.1" stroke="#111" stroke-width="2.4"/>
<text class="tk" x="688" y="568.9" text-anchor="end" textLength="17" lengthAdjust="spacingAndGlyphs">50</text>
<line x1="721.8" y1="935" x2="721.8" y2="942.2" stroke="#111" stroke-width="2.4"/>
<text class="tk" x="721.7" y="958.7" text-anchor="middle" textLength="8.5" lengthAdjust="spacingAndGlyphs">4</text>
<line x1="772.47" y1="935" x2="772.47" y2="942.2" stroke="#111" stroke-width="2.4"/>
<text class="tk" x="772.37" y="958.7" text-anchor="middle" textLength="8.5" lengthAdjust="spacingAndGlyphs">8</text>
<line x1="823.14" y1="935" x2="823.14" y2="942.2" stroke="#111" stroke-width="2.4"/>
<text class="tk" x="823.04" y="958.7" text-anchor="middle" textLength="17" lengthAdjust="spacingAndGlyphs">12</text>
<line x1="873.81" y1="935" x2="873.81" y2="942.2" stroke="#111" stroke-width="2.4"/>
<text class="tk" x="873.71" y="958.7" text-anchor="middle" textLength="17" lengthAdjust="spacingAndGlyphs">16</text>
<line x1="924.48" y1="935" x2="924.48" y2="942.2" stroke="#111" stroke-width="2.4"/>
<text class="tk" x="924.38" y="958.7" text-anchor="middle" textLength="17" lengthAdjust="spacingAndGlyphs">20</text>
<line x1="975.15" y1="935" x2="975.15" y2="942.2" stroke="#111" stroke-width="2.4"/>
<text class="tk" x="975.05" y="958.7" text-anchor="middle" textLength="17" lengthAdjust="spacingAndGlyphs">24</text>
<line x1="1025.82" y1="935" x2="1025.82" y2="942.2" stroke="#111" stroke-width="2.4"/>
<text class="tk" x="1025.72" y="958.7" text-anchor="middle" textLength="17" lengthAdjust="spacingAndGlyphs">30</text>
<line x1="1076.49" y1="935" x2="1076.49" y2="942.2" stroke="#111" stroke-width="2.4"/>
<text class="tk" x="1076.39" y="958.7" text-anchor="middle" textLength="17" lengthAdjust="spacingAndGlyphs">36</text>
<line x1="1127.16" y1="935" x2="1127.16" y2="942.2" stroke="#111" stroke-width="2.4"/>
<text class="tk" x="1127.06" y="958.7" text-anchor="middle" textLength="17" lengthAdjust="spacingAndGlyphs">48</text>
<line x1="1177.83" y1="935" x2="1177.83" y2="942.2" stroke="#111" stroke-width="2.4"/>
<text class="tk" x="1177.73" y="958.7" text-anchor="middle" textLength="17" lengthAdjust="spacingAndGlyphs">60</text>
<line x1="774.5" y1="793" x2="792.5" y2="793" stroke="#4a4a4a" stroke-width="1.7"/>
<text class="st" x="783" y="792.5" text-anchor="middle">*</text>
<line x1="856.5" y1="847" x2="873.5" y2="847" stroke="#4a4a4a" stroke-width="1.7"/>
<text class="st" x="864.25" y="845" text-anchor="middle">*</text>
<line x1="906.5" y1="812.75" x2="923.5" y2="812.75" stroke="#4a4a4a" stroke-width="1.7"/>
<text class="st" x="914.25" y="810.75" text-anchor="middle">*</text>
<line x1="957" y1="814.5" x2="974" y2="814.5" stroke="#4a4a4a" stroke-width="1.7"/>
<text class="st" x="965" y="813" text-anchor="middle">*</text>
<line x1="1005" y1="657.75" x2="1025" y2="657.75" stroke="#4a4a4a" stroke-width="1.7"/>
<text class="st" x="1000.25" y="655.25" text-anchor="middle">*</text>
<text class="st" x="1009.25" y="655.25" text-anchor="middle">*</text>
<text class="st" x="1018.25" y="655.25" text-anchor="middle">*</text>
<text class="st" x="1027.25" y="655.25" text-anchor="middle">*</text>
<line x1="1061.25" y1="550.75" x2="1081.25" y2="550.75" stroke="#4a4a4a" stroke-width="1.7"/>
<text class="st" x="1060" y="551.25" text-anchor="middle">*</text>
<text class="st" x="1069" y="551.25" text-anchor="middle">*</text>
<text class="st" x="1078" y="551.25" text-anchor="middle">*</text>
<text class="st" x="1087" y="551.25" text-anchor="middle">*</text>
<line x1="1108" y1="681.5" x2="1127" y2="681.5" stroke="#4a4a4a" stroke-width="1.7"/>
<text class="st" x="1107.75" y="679.5" text-anchor="middle">*</text>
<text class="st" x="1116.75" y="679.5" text-anchor="middle">*</text>
<text class="st" x="1125.75" y="679.5" text-anchor="middle">*</text>
<text class="ti" x="940.5" y="533.25" textLength="24.5" lengthAdjust="spacingAndGlyphs"><tspan font-style="italic">ep</tspan></text>
<text class="lb" x="919" y="985.6" textLength="68" lengthAdjust="spacingAndGlyphs">Time (h)</text>
<text class="lb yl" transform="translate(659 869.4) rotate(-90)" x="0" y="0" textLength="241.6" lengthAdjust="spacingAndGlyphs">Gene expression quanitity</text>
<rect x="714" y="571.25" width="25" height="14" fill="#808080"/>
<rect x="714" y="598.25" width="25" height="14.25" fill="#000"/>
<text class="lg" x="751.5" y="584.65" textLength="21.6" lengthAdjust="spacingAndGlyphs">Ah</text>
<text class="lg" x="751.5" y="611.9" textLength="68" lengthAdjust="spacingAndGlyphs">Ah+Ytnp</text>
</g>
<g class="panel">
<line x1="111.7" y1="1288.1" x2="111.7" y2="1279" stroke="#808080" stroke-width="2.1"/>
<line x1="107.7" y1="1279.3" x2="115.7" y2="1279.3" stroke="#808080" stroke-width="2.1"/>
<rect x="104.75" y="1287.1" width="13.9" height="146" fill="#808080"/>
<line x1="130.5" y1="1406.35" x2="130.5" y2="1401.75" stroke="#000" stroke-width="2.1"/>
<line x1="126.5" y1="1402.05" x2="134.5" y2="1402.05" stroke="#000" stroke-width="2.1"/>
<rect x="123.5" y="1405.35" width="14" height="27.75" fill="#000"/>
<line x1="162.4" y1="1293.85" x2="162.4" y2="1284.5" stroke="#808080" stroke-width="2.1"/>
<line x1="158.4" y1="1284.8" x2="166.4" y2="1284.8" stroke="#808080" stroke-width="2.1"/>
<rect x="155.45" y="1292.85" width="13.9" height="140.25" fill="#808080"/>
<line x1="181.2" y1="1401.85" x2="181.2" y2="1398" stroke="#000" stroke-width="2.1"/>
<line x1="177.2" y1="1398.3" x2="185.2" y2="1398.3" stroke="#000" stroke-width="2.1"/>
<rect x="174.2" y="1400.85" width="14" height="32.25" fill="#000"/>
<rect x="206.15" y="1378.6" width="13.9" height="54.5" fill="#808080"/>
<line x1="231.9" y1="1395.1" x2="231.9" y2="1384.5" stroke="#000" stroke-width="2.1"/>
<line x1="227.9" y1="1384.8" x2="235.9" y2="1384.8" stroke="#000" stroke-width="2.1"/>
<rect x="224.9" y="1394.1" width="14" height="39" fill="#000"/>
<line x1="263.8" y1="1190.1" x2="263.8" y2="1172.5" stroke="#808080" stroke-width="2.1"/>
<line x1="259.8" y1="1172.8" x2="267.8" y2="1172.8" stroke="#808080" stroke-width="2.1"/>
<rect x="256.85" y="1189.1" width="13.9" height="244" fill="#808080"/>
<line x1="282.6" y1="1370.6" x2="282.6" y2="1352" stroke="#000" stroke-width="2.1"/>
<line x1="278.6" y1="1352.3" x2="286.6" y2="1352.3" stroke="#000" stroke-width="2.1"/>
<rect x="275.6" y="1369.6" width="14" height="63.5" fill="#000"/>
<line x1="314.5" y1="1303.1" x2="314.5" y2="1296.75" stroke="#808080" stroke-width="2.1"/>
<line x1="310.5" y1="1297.05" x2="318.5" y2="1297.05" stroke="#808080" stroke-width="2.1"/>
<rect x="307.55" y="1302.1" width="13.9" height="131" fill="#808080"/>
<line x1="333.3" y1="1405.1" x2="333.3" y2="1403.75" stroke="#000" stroke-width="2.1"/>
<line x1="329.3" y1="1404.05" x2="337.3" y2="1404.05" stroke="#000" stroke-width="2.1"/>
<rect x="326.3" y="1404.1" width="14" height="29" fill="#000"/>
<line x1="365.2" y1="1297.6" x2="365.2" y2="1277" stroke="#808080" stroke-width="2.1"/>
<line x1="361.2" y1="1277.3" x2="369.2" y2="1277.3" stroke="#808080" stroke-width="2.1"/>
<rect x="358.25" y="1296.6" width="13.9" height="136.5" fill="#808080"/>
<line x1="384" y1="1407.6" x2="384" y2="1405" stroke="#000" stroke-width="2.1"/>
<line x1="380" y1="1405.3" x2="388" y2="1405.3" stroke="#000" stroke-width="2.1"/>
<rect x="377" y="1406.6" width="14" height="26.5" fill="#000"/>
<line x1="415.9" y1="1183.1" x2="415.9" y2="1154" stroke="#808080" stroke-width="2.1"/>
<line x1="411.9" y1="1154.3" x2="419.9" y2="1154.3" stroke="#808080" stroke-width="2.1"/>
<rect x="408.95" y="1182.1" width="13.9" height="251" fill="#808080"/>
<line x1="434.7" y1="1322.6" x2="434.7" y2="1310.5" stroke="#000" stroke-width="2.1"/>
<line x1="430.7" y1="1310.8" x2="438.7" y2="1310.8" stroke="#000" stroke-width="2.1"/>
<rect x="427.7" y="1321.6" width="14" height="111.5" fill="#000"/>
<line x1="466.6" y1="1307.35" x2="466.6" y2="1293.25" stroke="#808080" stroke-width="2.1"/>
<line x1="462.6" y1="1293.55" x2="470.6" y2="1293.55" stroke="#808080" stroke-width="2.1"/>
<rect x="459.65" y="1306.35" width="13.9" height="126.75" fill="#808080"/>
<line x1="485.4" y1="1369.35" x2="485.4" y2="1367.5" stroke="#000" stroke-width="2.1"/>
<line x1="481.4" y1="1367.8" x2="489.4" y2="1367.8" stroke="#000" stroke-width="2.1"/>
<rect x="478.4" y="1368.35" width="14" height="64.75" fill="#000"/>
<line x1="517.3" y1="1228.1" x2="517.3" y2="1151.5" stroke="#808080" stroke-width="2.1"/>
<line x1="513.3" y1="1151.8" x2="521.3" y2="1151.8" stroke="#808080" stroke-width="2.1"/>
<rect x="510.35" y="1227.1" width="13.9" height="206" fill="#808080"/>
<line x1="536.1" y1="1312.6" x2="536.1" y2="1268.25" stroke="#000" stroke-width="2.1"/>
<line x1="532.1" y1="1268.55" x2="540.1" y2="1268.55" stroke="#000" stroke-width="2.1"/>
<rect x="529.1" y="1311.6" width="14" height="121.5" fill="#000"/>
<line x1="568" y1="1380.1" x2="568" y2="1362" stroke="#808080" stroke-width="2.1"/>
<line x1="564" y1="1362.3" x2="572" y2="1362.3" stroke="#808080" stroke-width="2.1"/>
<rect x="561.05" y="1379.1" width="13.9" height="54" fill="#808080"/>
<line x1="586.8" y1="1290.6" x2="586.8" y2="1241.25" stroke="#000" stroke-width="2.1"/>
<line x1="582.8" y1="1241.55" x2="590.8" y2="1241.55" stroke="#000" stroke-width="2.1"/>
<rect x="579.8" y="1289.6" width="14" height="143.5" fill="#000"/>
<line x1="96.05" y1="1062.8" x2="96.05" y2="1434.3" stroke="#111" stroke-width="2.3"/>
<line x1="94.95" y1="1433.1" x2="607.4" y2="1433.1" stroke="#111" stroke-width="2.5"/>
<line x1="88.85" y1="1433.1" x2="96.05" y2="1433.1" stroke="#111" stroke-width="2.4"/>
<text class="tk" x="87.25" y="1438.9" text-anchor="end" textLength="8.5" lengthAdjust="spacingAndGlyphs">0</text>
<line x1="88.85" y1="1396.19" x2="96.05" y2="1396.19" stroke="#111" stroke-width="2.4"/>
<text class="tk" x="87.25" y="1401.99" text-anchor="end" textLength="8.5" lengthAdjust="spacingAndGlyphs">2</text>
<line x1="88.85" y1="1359.28" x2="96.05" y2="1359.28" stroke="#111" stroke-width="2.4"/>
<text class="tk" x="87.25" y="1365.08" text-anchor="end" textLength="8.5" lengthAdjust="spacingAndGlyphs">4</text>
<line x1="88.85" y1="1322.37" x2="96.05" y2="1322.37" stroke="#111" stroke-width="2.4"/>
<text class="tk" x="87.25" y="1328.17" text-anchor="end" textLength="8.5" lengthAdjust="spacingAndGlyphs">6</text>
<line x1="88.85" y1="1285.46" x2="96.05" y2="1285.46" stroke="#111" stroke-width="2.4"/>
<text class="tk" x="87.25" y="1291.26" text-anchor="end" textLength="8.5" lengthAdjust="spacingAndGlyphs">8</text>
<line x1="88.85" y1="1248.55" x2="96.05" y2="1248.55" stroke="#111" stroke-width="2.4"/>
<text class="tk" x="87.25" y="1254.35" text-anchor="end" textLength="17" lengthAdjust="spacingAndGlyphs">10</text>
<line x1="88.85" y1="1211.64" x2="96.05" y2="1211.64" stroke="#111" stroke-width="2.4"/>
<text class="tk" x="87.25" y="1217.44" text-anchor="end" textLength="17" lengthAdjust="spacingAndGlyphs">12</text>
<line x1="88.85" y1="1174.73" x2="96.05" y2="1174.73" stroke="#111" stroke-width="2.4"/>
<text class="tk" x="87.25" y="1180.53" text-anchor="end" textLength="17" lengthAdjust="spacingAndGlyphs">14</text>
<line x1="88.85" y1="1137.82" x2="96.05" y2="1137.82" stroke="#111" stroke-width="2.4"/>
<text class="tk" x="87.25" y="1143.62" text-anchor="end" textLength="17" lengthAdjust="spacingAndGlyphs">16</text>
<line x1="88.85" y1="1100.91" x2="96.05" y2="1100.91" stroke="#111" stroke-width="2.4"/>
<text class="tk" x="87.25" y="1106.71" text-anchor="end" textLength="17" lengthAdjust="spacingAndGlyphs">18</text>
<line x1="88.85" y1="1064" x2="96.05" y2="1064" stroke="#111" stroke-width="2.4"/>
<text class="tk" x="87.25" y="1069.8" text-anchor="end" textLength="17" lengthAdjust="spacingAndGlyphs">20</text>
<line x1="121" y1="1433.1" x2="121" y2="1440.3" stroke="#111" stroke-width="2.4"/>
<text class="tk" x="120.9" y="1456.8" text-anchor="middle" textLength="8.5" lengthAdjust="spacingAndGlyphs">4</text>
<line x1="171.7" y1="1433.1" x2="171.7" y2="1440.3" stroke="#111" stroke-width="2.4"/>
<text class="tk" x="171.6" y="1456.8" text-anchor="middle" textLength="8.5" lengthAdjust="spacingAndGlyphs">8</text>
<line x1="222.4" y1="1433.1" x2="222.4" y2="1440.3" stroke="#111" stroke-width="2.4"/>
<text class="tk" x="222.3" y="1456.8" text-anchor="middle" textLength="17" lengthAdjust="spacingAndGlyphs">12</text>
<line x1="273.1" y1="1433.1" x2="273.1" y2="1440.3" stroke="#111" stroke-width="2.4"/>
<text class="tk" x="273" y="1456.8" text-anchor="middle" textLength="17" lengthAdjust="spacingAndGlyphs">16</text>
<line x1="323.8" y1="1433.1" x2="323.8" y2="1440.3" stroke="#111" stroke-width="2.4"/>
<text class="tk" x="323.7" y="1456.8" text-anchor="middle" textLength="17" lengthAdjust="spacingAndGlyphs">20</text>
<line x1="374.5" y1="1433.1" x2="374.5" y2="1440.3" stroke="#111" stroke-width="2.4"/>
<text class="tk" x="374.4" y="1456.8" text-anchor="middle" textLength="17" lengthAdjust="spacingAndGlyphs">24</text>
<line x1="425.2" y1="1433.1" x2="425.2" y2="1440.3" stroke="#111" stroke-width="2.4"/>
<text class="tk" x="425.1" y="1456.8" text-anchor="middle" textLength="17" lengthAdjust="spacingAndGlyphs">30</text>
<line x1="475.9" y1="1433.1" x2="475.9" y2="1440.3" stroke="#111" stroke-width="2.4"/>
<text class="tk" x="475.8" y="1456.8" text-anchor="middle" textLength="17" lengthAdjust="spacingAndGlyphs">36</text>
<line x1="526.6" y1="1433.1" x2="526.6" y2="1440.3" stroke="#111" stroke-width="2.4"/>
<text class="tk" x="526.5" y="1456.8" text-anchor="middle" textLength="17" lengthAdjust="spacingAndGlyphs">48</text>
<line x1="577.3" y1="1433.1" x2="577.3" y2="1440.3" stroke="#111" stroke-width="2.4"/>
<text class="tk" x="577.2" y="1456.8" text-anchor="middle" textLength="17" lengthAdjust="spacingAndGlyphs">60</text>
<line x1="103.75" y1="1271.25" x2="122.5" y2="1271.25" stroke="#4a4a4a" stroke-width="1.7"/>
<text class="st" x="112" y="1270" text-anchor="middle">*</text>
<line x1="155" y1="1275" x2="173.75" y2="1275" stroke="#4a4a4a" stroke-width="1.7"/>
<text class="st" x="163.25" y="1274" text-anchor="middle">*</text>
<line x1="256.5" y1="1163" x2="275" y2="1163" stroke="#4a4a4a" stroke-width="1.7"/>
<text class="st" x="256.5" y="1160.75" text-anchor="middle">*</text>
<text class="st" x="265.5" y="1160.75" text-anchor="middle">*</text>
<text class="st" x="274.5" y="1160.75" text-anchor="middle">*</text>
<line x1="304" y1="1286.75" x2="323.75" y2="1286.75" stroke="#4a4a4a" stroke-width="1.7"/>
<text class="st" x="312.5" y="1285.75" text-anchor="middle">*</text>
<line x1="356.75" y1="1266.25" x2="376.25" y2="1266.25" stroke="#4a4a4a" stroke-width="1.7"/>
<text class="st" x="365" y="1265.75" text-anchor="middle">*</text>
<line x1="407" y1="1146" x2="426.5" y2="1146" stroke="#4a4a4a" stroke-width="1.7"/>
<text class="st" x="411.75" y="1140.75" text-anchor="middle">*</text>
<text class="st" x="420.75" y="1140.75" text-anchor="middle">*</text>
<line x1="457.5" y1="1282" x2="477" y2="1282" stroke="#4a4a4a" stroke-width="1.7"/>
<text class="st" x="465.5" y="1281.25" text-anchor="middle">*</text>
<text class="ti" x="326.25" y="1034.25" textLength="50.75" lengthAdjust="spacingAndGlyphs"><tspan font-style="italic">ahy</tspan><tspan font-style="normal">B</tspan></text>
<text class="lb" x="318" y="1484.4" textLength="68" lengthAdjust="spacingAndGlyphs">Time (h)</text>
<text class="lb yl" transform="translate(59 1367.7) rotate(-90)" x="0" y="0" textLength="241.6" lengthAdjust="spacingAndGlyphs">Gene expression quanitity</text>
<rect x="114" y="1070.5" width="25" height="14" fill="#808080"/>
<rect x="114" y="1097.5" width="25" height="14" fill="#000"/>
<text class="lg" x="151.5" y="1083.65" textLength="21.6" lengthAdjust="spacingAndGlyphs">Ah</text>
<text class="lg" x="151.5" y="1110.9" textLength="68" lengthAdjust="spacingAndGlyphs">Ah+Ytnp</text>
</g>
</g>
</svg>
</body>
</html>
